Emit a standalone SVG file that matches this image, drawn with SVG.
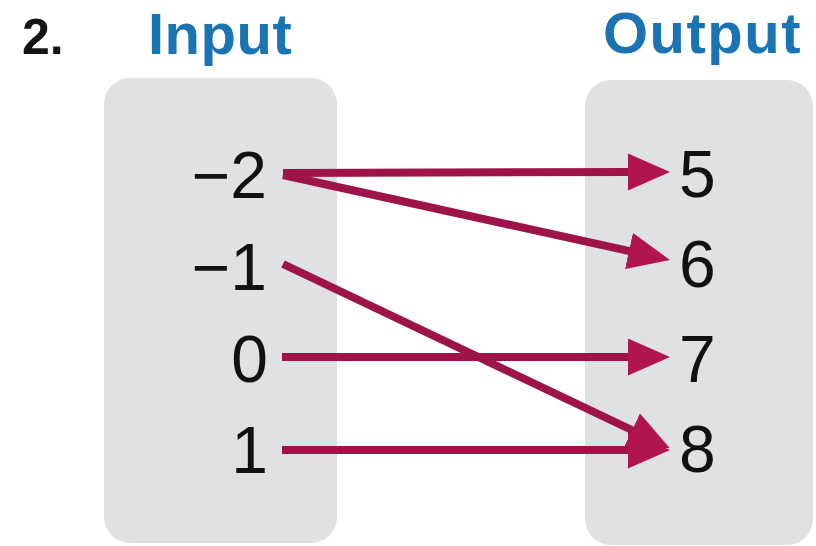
<svg xmlns="http://www.w3.org/2000/svg" width="816" height="546" viewBox="0 0 816 546">
  <defs>
    <style>
      .title { font-family: "Liberation Sans", Arial, sans-serif; font-weight: 700; }
      .num { font-family: "Liberation Sans", Arial, sans-serif; font-size: 66px; fill: #111; }
      .box { fill: #dfe1e2; }
      .link { fill: none; stroke: #9e1449; stroke-width: 8; stroke-linecap: butt; marker-end: url(#head); }
    </style>
    <marker id="head" markerUnits="userSpaceOnUse" markerWidth="44" markerHeight="38" refX="2" refY="18.5" orient="auto">
      <path d="M0,0 L42,18.5 L0,37 z" fill="#b0154f"/>
    </marker>
  </defs>

  <rect width="816" height="546" fill="#ffffff"/>

  <!-- headings -->
  <text class="title" x="22" y="54" font-size="50" fill="#141414">2.</text>
  <text class="title" x="148" y="54" font-size="58" fill="#1a74b3" letter-spacing="0.5">Input</text>
  <text class="title" x="603" y="53" font-size="58" fill="#1a74b3" letter-spacing="1.5">Output</text>

  <!-- domain set -->
  <g id="input-set">
    <rect class="box" x="104" y="78" width="233" height="465" rx="26"/>
    <text class="num" x="267" y="198" text-anchor="end">−2</text>
    <text class="num" x="267" y="290" text-anchor="end">−1</text>
    <text class="num" x="268" y="382" text-anchor="end">0</text>
    <text class="num" x="268" y="473" text-anchor="end">1</text>
  </g>

  <!-- range set -->
  <g id="output-set">
    <rect class="box" x="585" y="80" width="228" height="465" rx="26"/>
    <text class="num" x="679" y="197">5</text>
    <text class="num" x="679" y="287">6</text>
    <text class="num" x="679" y="382">7</text>
    <text class="num" x="679" y="472">8</text>
  </g>

  <!-- mapping arrows -->
  <g id="connectors">
    <path class="link" d="M283,173 L630,172"/>
    <path class="link" d="M283,175 L630.9,251.4"/>
    <path class="link" d="M283,264 L633.8,431"/>
    <path class="link" d="M282,357 L630,357"/>
    <path class="link" d="M282,450 L630,450"/>
  </g>
</svg>
